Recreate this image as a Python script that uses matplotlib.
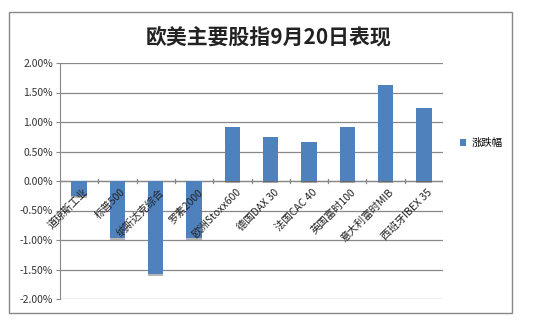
import matplotlib.pyplot as plt
from matplotlib.patches import Rectangle
import matplotlib.patheffects as pe

plt.rcParams['font.family'] = ['Noto Sans CJK SC', 'DejaVu Sans']

names = ['道琼斯工业', '标普500', '纳斯达克综合', '罗素2000', '欧洲Stoxx600',
         '德国DAX 30', '法国CAC 40', '英国富时100', '意大利富时MIB', '西班牙IBEX 35']
change = [-0.25, -0.97, -1.58, -0.97, 0.92, 0.74, 0.66, 0.92, 1.63, 1.24]
yticks = [-2.0, -1.5, -1.0, -0.5, 0.0, 0.5, 1.0, 1.5, 2.0]

fig = plt.figure(figsize=(5.37, 3.22), dpi=100)
fig.patches.append(Rectangle((9 / 537, 1 - 313 / 322), 503 / 537, 301 / 322,
                             transform=fig.transFigure, fill=False,
                             edgecolor='#888888', linewidth=1))
ax = fig.add_axes([60 / 537, 1 - 299 / 322, 383 / 537, 236 / 322])

x = list(range(len(names)))
bars = ax.bar(x, change, width=0.4, color='#4F81BD', label='涨跌幅', zorder=3)
for b in bars:
    b.set_path_effects([pe.SimplePatchShadow(offset=(0, -1.5), shadow_rgbFace='#333333', alpha=0.35),
                        pe.Normal()])

ax.set_xlim(-0.5, len(names) - 0.5)
ax.set_ylim(-2.0, 2.0)
ax.set_yticks(yticks)
ax.set_yticklabels(['%.2f%%' % v for v in yticks], fontsize=7.5, color='#333333')
ax.yaxis.grid(True, color='#888888', linewidth=0.9, zorder=0)
ax.tick_params(axis='y', length=3, color='#888888', pad=2)
ax.set_xticks([])
for s in ['top', 'right', 'bottom']:
    ax.spines[s].set_visible(False)
ax.spines['left'].set_color('#888888')

# category axis on zero line with tick marks between categories
ax.axhline(0, color='#888888', linewidth=0.9, zorder=2)
for i in range(len(names) + 1):
    ax.plot([i - 0.5, i - 0.5], [-0.04, 0.04], color='#888888', linewidth=0.9, zorder=2)

for i, n in enumerate(names):
    ax.text(i + 0.08, -0.1, n, rotation=45, ha='right', va='top',
            rotation_mode='anchor', fontsize=7.5, color='#222222', zorder=4)

fig.text(0.5, 1 - 37 / 322, '欧美主要股指9月20日表现', ha='center', va='center',
         fontsize=15, fontweight='bold', color='#222222')
leg = ax.legend(loc='center left', bbox_to_anchor=(1.02, 0.66), frameon=False,
                fontsize=7.5, handlelength=0.6, handleheight=0.6, handletextpad=0.5)
for h in leg.legend_handles:
    h.set_path_effects([])

fig.savefig('out.png', dpi=100)
